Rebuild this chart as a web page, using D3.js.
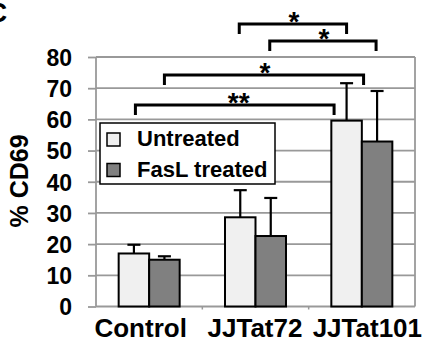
<!DOCTYPE html>
<html>
<head>
<meta charset="utf-8">
<script src="https://cdn.jsdelivr.net/npm/d3@7"></script>
<style>
  html, body { margin: 0; padding: 0; background: #fff; }
  svg { display: block; font-family: "Liberation Sans", Arial, sans-serif; font-weight: bold; }
</style>
</head>
<body>
<div id="chart"></div>
<script>
// data
const categories = ['Control', 'JJTat72', 'JJTat101'];
const seriesNames = ['Untreated', 'FasL treated'];
const untreated = [17.0, 28.6, 59.6];
const untreatedErr = [2.8, 8.7, 12.0];
const faslTreated = [15.0, 22.6, 52.9];
const faslErr = [1.1, 12.2, 16.2];
const yTicks = [0, 10, 20, 30, 40, 50, 60, 70, 80];

// significance brackets: [category, series] to [category, series], level in % CD69
const comparisons = [
  { from: [1, 0], to: [2, 0], level: 90.6, label: '*' },
  { from: [1, 1], to: [2, 1], level: 85.1, label: '*' },
  { from: [0, 1], to: [2, 1], level: 74.2, label: '*' },
  { from: [0, 0], to: [2, 0], level: 64.6, label: '**' }
];

const width = 424;
const height = 345;
const margin = { top: 57, right: 9, bottom: 38.5, left: 96 };
const colors = ['#f0f0f0', '#808080'];

const svg = d3.select('#chart')
  .append('svg')
  .attr('width', width)
  .attr('height', height);

const x = d3.scaleBand()
  .domain(categories)
  .range([margin.left, width - margin.right]);

const groupW = 61;
const xSub = d3.scaleBand()
  .domain(seriesNames)
  .range([(x.bandwidth() - groupW) / 2, (x.bandwidth() + groupW) / 2]);

const y = d3.scaleLinear()
  .domain([0, 80])
  .range([height - margin.bottom, margin.top]);

// gridlines + y axis
const yAxis = svg.append('g')
  .attr('transform', `translate(${margin.left},0)`)
  .call(d3.axisLeft(y).tickValues(yTicks).tickSize(8).tickPadding(16));
yAxis.select('.domain').remove();
yAxis.selectAll('.tick line').attr('stroke', '#999').attr('stroke-width', 1.8);
yAxis.selectAll('.tick text')
  .attr('fill', '#000')
  .style('font-size', '23px')
  .attr('font-family', null)
  .attr('dy', '0.36em');

svg.append('g')
  .selectAll('line')
  .data(yTicks)
  .enter().append('line')
  .attr('x1', margin.left)
  .attr('x2', width - margin.right)
  .attr('y1', d => y(d))
  .attr('y2', d => y(d))
  .attr('stroke', '#999')
  .attr('stroke-width', 1.8);

// plot frame
svg.append('line')
  .attr('x1', margin.left).attr('x2', margin.left)
  .attr('y1', y(80)).attr('y2', y(0))
  .attr('stroke', '#999').attr('stroke-width', 1.8);
svg.append('line')
  .attr('x1', width - margin.right).attr('x2', width - margin.right)
  .attr('y1', y(80)).attr('y2', y(0))
  .attr('stroke', '#999').attr('stroke-width', 1.8);

// small category ticks on x axis
svg.append('g')
  .selectAll('line')
  .data(categories.slice(1))
  .enter().append('line')
  .attr('x1', d => x(d)).attr('x2', d => x(d))
  .attr('y1', y(0)).attr('y2', y(0) + 3)
  .attr('stroke', '#999').attr('stroke-width', 1.5);

// x labels (the figure sets them a little off-centre)
const labelShift = [-8.5, -0.5, 5.5];
svg.append('g')
  .selectAll('text')
  .data(categories)
  .enter().append('text')
  .attr('x', (d, i) => x(d) + x.bandwidth() / 2 + labelShift[i])
  .attr('y', 337)
  .attr('text-anchor', 'middle')
  .style('font-size', '26px')
  .text(d => d);

// y title
svg.append('text')
  .attr('transform', 'translate(28,181) rotate(-90)')
  .attr('text-anchor', 'middle')
  .style('font-size', '25px')
  .text('% CD69');

// bars
const rows = categories.map((c, i) => ({
  cat: c,
  vals: [
    { s: seriesNames[0], v: untreated[i], e: untreatedErr[i], k: 0 },
    { s: seriesNames[1], v: faslTreated[i], e: faslErr[i], k: 1 }
  ]
}));

const groups = svg.append('g')
  .selectAll('g')
  .data(rows)
  .enter().append('g')
  .attr('transform', d => `translate(${x(d.cat)},0)`);

// error bars (upper half only)
const err = groups.selectAll('g.err')
  .data(d => d.vals)
  .enter().append('g')
  .attr('class', 'err');
err.append('line')
  .attr('x1', d => xSub(d.s) + xSub.bandwidth() / 2)
  .attr('x2', d => xSub(d.s) + xSub.bandwidth() / 2)
  .attr('y1', d => y(d.v))
  .attr('y2', d => y(d.v + d.e))
  .attr('stroke', '#000').attr('stroke-width', 2.2);
err.append('line')
  .attr('x1', d => xSub(d.s) + xSub.bandwidth() / 2 - 6.5)
  .attr('x2', d => xSub(d.s) + xSub.bandwidth() / 2 + 6.5)
  .attr('y1', d => y(d.v + d.e))
  .attr('y2', d => y(d.v + d.e))
  .attr('stroke', '#000').attr('stroke-width', 2.2);

groups.selectAll('rect')
  .data(d => d.vals)
  .enter().append('rect')
  .attr('x', d => xSub(d.s))
  .attr('y', d => y(d.v))
  .attr('width', xSub.bandwidth())
  .attr('height', d => y(0) - y(d.v))
  .attr('fill', d => colors[d.k])
  .attr('stroke', '#000')
  .attr('stroke-width', 2);

// legend
const legend = svg.append('g');
legend.append('rect')
  .attr('x', 100).attr('y', 123)
  .attr('width', 175).attr('height', 61)
  .attr('fill', '#fff')
  .attr('stroke', '#000')
  .attr('stroke-width', 1.5);
seriesNames.forEach((s, i) => {
  legend.append('rect')
    .attr('x', 107).attr('y', 133 + i * 30.5)
    .attr('width', 13).attr('height', 13)
    .attr('fill', colors[i])
    .attr('stroke', '#000')
    .attr('stroke-width', 1.5);
  legend.append('text')
    .attr('x', 137).attr('y', 146 + i * 30.7)
    .style('font-size', '22px')
    .text(s);
});

// significance brackets
const barCenter = ([c, s]) => x(categories[c]) + xSub(seriesNames[s]) + xSub.bandwidth() / 2;
const nudges = [[-1, 0], [-1, -1], [0, -13.5], [1.5, -12.5]];
const legLen = 10;
const br = svg.append('g');
comparisons.forEach((cmp, i) => {
  const x1 = barCenter(cmp.from) + nudges[i][0];
  const x2 = barCenter(cmp.to) + nudges[i][1];
  const yy = y(cmp.level);
  br.append('path')
    .attr('d', `M${x1},${yy + legLen}V${yy}H${x2}V${yy + legLen}`)
    .attr('fill', 'none')
    .attr('stroke', '#000')
    .attr('stroke-width', 3);
  br.append('text')
    .attr('x', (x1 + x2) / 2 + (cmp.label.length > 1 ? 4 : 1))
    .attr('y', yy + 7)
    .attr('text-anchor', 'middle')
    .style('font-size', '28px')
    .text(cmp.label);
});

// panel letter, cut at the edge as in the figure
svg.append('text')
  .attr('x', -13).attr('y', 22)
  .style('font-size', '28px')
  .text('C');
</script>
</body>
</html>
